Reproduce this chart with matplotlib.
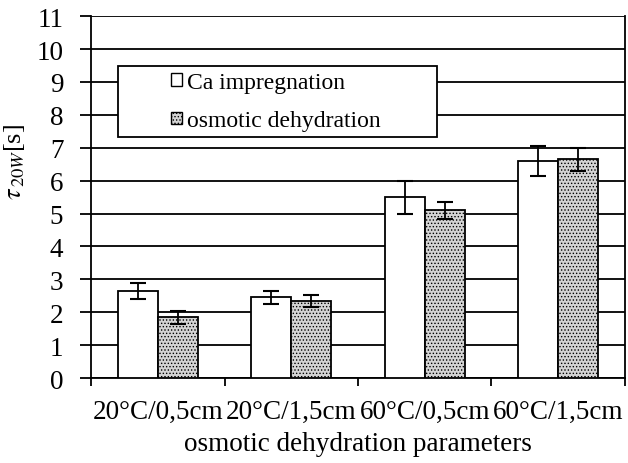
import matplotlib
matplotlib.use("Agg")
import matplotlib.pyplot as plt
import numpy as np
from matplotlib.patches import Rectangle, Patch

categories = ["20°C/0,5cm", "20°C/1,5cm", "60°C/0,5cm", "60°C/1,5cm"]
ca_vals = [2.65, 2.45, 5.5, 6.6]
ca_err = [0.25, 0.2, 0.5, 0.45]
od_vals = [1.85, 2.35, 5.1, 6.65]
od_err = [0.2, 0.18, 0.25, 0.35]
series_names = ["Ca impregnation", "osmotic dehydration"]
yticks = list(range(0, 12))

plt.rcParams['font.family'] = ['Liberation Serif', 'DejaVu Serif']
plt.rcParams['mathtext.fontset'] = 'stix'
plt.rcParams['hatch.color'] = '#7a7a7a'
plt.rcParams['hatch.linewidth'] = 0.6

fig = plt.figure(figsize=(6.28, 4.64), dpi=100)
ax = fig.add_axes([0.145, 0.183, 0.85, 0.780])

x = np.arange(len(categories))
w = 0.30
ax.bar(x - w/2, ca_vals, w, color='white', edgecolor='black', linewidth=1.3, zorder=3)
ax.bar(x + w/2, od_vals, w, color='#d4d4d4', edgecolor='black', linewidth=1.3,
       hatch='.....', zorder=3)
ax.errorbar(x - w/2, ca_vals, yerr=ca_err, fmt='none', ecolor='black', elinewidth=1.3,
            capsize=6, capthick=1.5, zorder=4)
ax.errorbar(x + w/2, od_vals, yerr=od_err, fmt='none', ecolor='black', elinewidth=1.3,
            capsize=6, capthick=1.5, zorder=4)

ax.set_xlim(-0.5, len(categories) - 0.5)
ax.set_ylim(0, 11)
ax.set_yticks(yticks)
ax.yaxis.grid(True, color='black', linewidth=1.3, zorder=0)
ax.set_axisbelow(True)
ax.set_xticks(x)
ax.set_xticklabels(categories, fontsize=19.5)
ax.set_xticks(np.arange(len(categories) + 1) - 0.5, minor=True)
ax.tick_params(axis='x', which='major', length=0, pad=15)
ax.tick_params(axis='x', which='minor', length=6, width=1.3, direction='out')
ax.tick_params(axis='y', length=8, width=1.3, direction='out', labelsize=19.5, pad=12)
for s in ['top', 'right']:
    ax.spines[s].set_visible(False)
for s in ['left', 'bottom']:
    ax.spines[s].set_linewidth(1.3)
ax.plot([1, 1], [0, 1], transform=ax.transAxes, color='black', linewidth=1.3, clip_on=False)

ax.set_xlabel("osmotic dehydration parameters", fontsize=19.5, labelpad=5)
ax.set_ylabel(r"$\tau_{\,20W}$[s]", fontsize=19)
ax.yaxis.set_label_coords(-0.12, 0.60)

# legend box
box = Rectangle((0.05, 0.666), 0.598, 0.196, transform=ax.transAxes,
                facecolor='white', edgecolor='black', linewidth=1.3, zorder=5)
ax.add_patch(box)
handles = [Patch(facecolor='white', edgecolor='black', linewidth=1.0),
           Patch(facecolor='#d4d4d4', edgecolor='black', linewidth=1.0, hatch='.....')]
leg = ax.legend(handles, series_names, loc='center left', bbox_to_anchor=(0.132, 0.764),
                frameon=False, fontsize=17, handlelength=0.45, handleheight=0.45,
                handletextpad=0.25, labelspacing=0.75, borderaxespad=0)
leg.set_zorder(6)

fig.savefig("out.png", dpi=100)
